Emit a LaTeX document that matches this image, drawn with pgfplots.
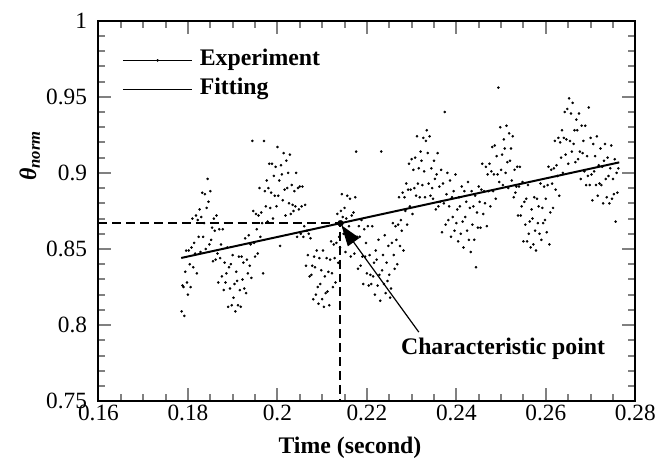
\documentclass[border=0pt]{standalone}
\usepackage{fontspec}
\setmainfont{Liberation Serif}
\usepackage{pgfplots}
\pgfplotsset{compat=1.18}
\usetikzlibrary{arrows.meta}

\begin{document}
\begin{tikzpicture}
\path (-99bp,-61.5bp) rectangle (560bp,403.5bp);
\begin{axis}[
    at={(0,0)}, anchor=south west,
    scale only axis, width=540bp, height=382.7bp,
    xmin=0.16, xmax=0.28, ymin=0.75, ymax=1,
    xtick={0.16,0.18,0.2,0.22,0.24,0.26,0.28},
    ytick={0.75,0.8,0.85,0.9,0.95,1},
    minor x tick num=3, minor y tick num=4,
    major tick length=13bp, minor tick length=7bp,
    every tick/.append style={line width=2bp},
    axis line style={line width=2bp},
    /pgf/number format/assume math mode=true,
    tick label style={font=\fontsize{23.5}{28}\selectfont},
    yticklabel style={xshift=-8bp},
    label style={font=\fontsize{24}{29}\selectfont\bfseries},
    xlabel={Time (second)},
    xlabel style={at={(axis description cs:0.4685,0)}, anchor=base, yshift=-53bp},
    ylabel={\itshape θ\textsubscript{norm}},
    ylabel style={at={(axis description cs:-0.128,0.645)}, anchor=center},
    legend cell align=left,
    legend style={at={(axis description cs:0.0444,0.934)}, anchor=north west,
        draw=none, fill=none, inner sep=0pt, column sep=4bp,
        font=\fontsize{24}{29}\selectfont\bfseries,
        nodes={inner sep=3bp, text height=17bp, text depth=6bp}},
]
% measured points
\addplot[only marks, mark=*, mark size=1.1bp, black,
    legend image code/.code={\path (0bp,0bp) -- (70bp,0bp); \fill (35bp,0bp) circle (1.1bp);}]
coordinates {
(0.1786,0.809) (0.1788,0.826)
(0.1790,0.825) (0.1792,0.806) (0.1794,0.835) (0.1796,0.849) (0.1798,0.828)
(0.1800,0.820) (0.1802,0.849) (0.1804,0.840) (0.1806,0.825) (0.1808,0.851)
(0.1810,0.870) (0.1812,0.838) (0.1814,0.854) (0.1816,0.847) (0.1818,0.872)
(0.1820,0.834) (0.1822,0.869) (0.1824,0.858) (0.1826,0.876) (0.1828,0.848)
(0.1830,0.871) (0.1832,0.887) (0.1834,0.858) (0.1836,0.867) (0.1838,0.886)
(0.1840,0.850) (0.1842,0.877) (0.1844,0.896) (0.1846,0.881) (0.1848,0.853)
(0.1850,0.888) (0.1852,0.856) (0.1854,0.864) (0.1856,0.842) (0.1858,0.870)
(0.1860,0.862) (0.1862,0.843) (0.1864,0.872) (0.1866,0.847) (0.1868,0.828)
(0.1870,0.863) (0.1872,0.844) (0.1874,0.853) (0.1876,0.832) (0.1878,0.863)
(0.1880,0.823) (0.1882,0.841) (0.1884,0.828) (0.1886,0.834) (0.1888,0.851)
(0.1890,0.812) (0.1892,0.838) (0.1894,0.824) (0.1896,0.840) (0.1898,0.813)
(0.1900,0.846) (0.1902,0.818) (0.1904,0.827) (0.1906,0.809) (0.1908,0.835)
(0.1910,0.829) (0.1912,0.813) (0.1914,0.845) (0.1916,0.823) (0.1918,0.812)
(0.1920,0.845) (0.1922,0.830) (0.1924,0.841) (0.1926,0.824) (0.1928,0.857)
(0.1930,0.821) (0.1932,0.843) (0.1934,0.834) (0.1936,0.859) (0.1938,0.839)
(0.1940,0.853) (0.1942,0.831) (0.1944,0.921) (0.1946,0.875) (0.1948,0.854)
(0.1950,0.845) (0.1952,0.873) (0.1954,0.863) (0.1956,0.847) (0.1958,0.872)
(0.1960,0.890) (0.1962,0.858) (0.1964,0.874) (0.1966,0.867) (0.1968,0.834)
(0.1970,0.921) (0.1972,0.888) (0.1974,0.878) (0.1976,0.895) (0.1978,0.868)
(0.1980,0.890) (0.1982,0.906) (0.1984,0.877) (0.1986,0.887) (0.1988,0.906)
(0.1990,0.870) (0.1992,0.898) (0.1994,0.885) (0.1996,0.904) (0.1998,0.878)
(0.2000,0.917) (0.2002,0.885) (0.2004,0.895) (0.2006,0.852) (0.2008,0.905)
(0.2010,0.899) (0.2012,0.882) (0.2014,0.913) (0.2016,0.889) (0.2018,0.872)
(0.2020,0.908) (0.2022,0.890) (0.2024,0.900) (0.2026,0.880) (0.2028,0.912)
(0.2030,0.873) (0.2032,0.892) (0.2034,0.879) (0.2036,0.875) (0.2038,0.888)
(0.2040,0.878) (0.2042,0.900) (0.2044,0.858) (0.2046,0.890) (0.2048,0.876)
(0.2050,0.891) (0.2052,0.860) (0.2054,0.878) (0.2056,0.891) (0.2058,0.858)
(0.2060,0.865) (0.2062,0.879) (0.2064,0.839) (0.2066,0.862) (0.2068,0.846)
(0.2070,0.860) (0.2072,0.832) (0.2074,0.857) (0.2076,0.833) (0.2078,0.839)
(0.2080,0.817) (0.2082,0.845) (0.2084,0.838) (0.2086,0.820) (0.2088,0.849)
(0.2090,0.825) (0.2092,0.814) (0.2094,0.844) (0.2096,0.827) (0.2098,0.836)
(0.2100,0.817) (0.2102,0.849) (0.2104,0.812) (0.2106,0.832) (0.2108,0.821)
(0.2110,0.844) (0.2112,0.822) (0.2114,0.835) (0.2116,0.813) (0.2118,0.843)
(0.2120,0.855) (0.2122,0.834) (0.2124,0.825) (0.2126,0.853) (0.2128,0.844)
(0.2130,0.828) (0.2132,0.854) (0.2134,0.873) (0.2136,0.841) (0.2138,0.858)
(0.2140,0.851) (0.2142,0.875) (0.2144,0.886) (0.2146,0.871) (0.2148,0.860)
(0.2150,0.877) (0.2152,0.848) (0.2154,0.870) (0.2156,0.885) (0.2158,0.856)
(0.2160,0.865) (0.2162,0.883) (0.2164,0.845) (0.2166,0.872) (0.2168,0.858)
(0.2170,0.874) (0.2172,0.847) (0.2174,0.884) (0.2176,0.914) (0.2178,0.858)
(0.2180,0.837) (0.2182,0.865) (0.2184,0.858) (0.2186,0.839) (0.2188,0.869)
(0.2190,0.845) (0.2192,0.827) (0.2194,0.863) (0.2196,0.845) (0.2198,0.854)
(0.2200,0.834) (0.2202,0.865) (0.2204,0.826) (0.2206,0.846) (0.2208,0.833)
(0.2210,0.827) (0.2212,0.865) (0.2214,0.832) (0.2216,0.841) (0.2218,0.820)
(0.2220,0.849) (0.2222,0.843) (0.2224,0.826) (0.2226,0.856) (0.2228,0.833)
(0.2230,0.816) (0.2232,0.914) (0.2234,0.836) (0.2236,0.846) (0.2238,0.827)
(0.2240,0.859) (0.2242,0.821) (0.2244,0.841) (0.2246,0.829) (0.2248,0.852)
(0.2250,0.833) (0.2252,0.818) (0.2254,0.824) (0.2256,0.854) (0.2258,0.867)
(0.2260,0.846) (0.2262,0.837) (0.2264,0.865) (0.2266,0.856) (0.2268,0.840)
(0.2270,0.866) (0.2272,0.884) (0.2274,0.852) (0.2276,0.869) (0.2278,0.862)
(0.2280,0.887) (0.2282,0.849) (0.2284,0.884) (0.2286,0.875) (0.2288,0.893)
(0.2290,0.866) (0.2292,0.889) (0.2294,0.906) (0.2296,0.878) (0.2298,0.889)
(0.2300,0.909) (0.2302,0.873) (0.2304,0.902) (0.2306,0.890) (0.2308,0.910)
(0.2310,0.885) (0.2312,0.924) (0.2314,0.893) (0.2316,0.903) (0.2318,0.884)
(0.2320,0.914) (0.2322,0.908) (0.2324,0.892) (0.2326,0.923) (0.2328,0.901)
(0.2330,0.884) (0.2332,0.921) (0.2334,0.928) (0.2336,0.913) (0.2338,0.893)
(0.2340,0.924) (0.2342,0.885) (0.2344,0.903) (0.2346,0.890) (0.2348,0.883)
(0.2350,0.908) (0.2352,0.896) (0.2354,0.876) (0.2356,0.899) (0.2358,0.913)
(0.2360,0.878) (0.2362,0.891) (0.2364,0.881) (0.2366,0.902) (0.2368,0.861)
(0.2370,0.893) (0.2372,0.880) (0.2374,0.940) (0.2376,0.866) (0.2378,0.886)
(0.2380,0.900) (0.2382,0.869) (0.2384,0.878) (0.2386,0.895) (0.2388,0.858)
(0.2390,0.884) (0.2392,0.871) (0.2394,0.888) (0.2396,0.862) (0.2398,0.899)
(0.2400,0.867) (0.2402,0.876) (0.2404,0.855) (0.2406,0.884) (0.2408,0.878)
(0.2410,0.860) (0.2412,0.891) (0.2414,0.868) (0.2416,0.851) (0.2418,0.888)
(0.2420,0.871) (0.2422,0.881) (0.2424,0.862) (0.2426,0.894) (0.2428,0.856)
(0.2430,0.877) (0.2432,0.848) (0.2434,0.888) (0.2436,0.866) (0.2438,0.878)
(0.2440,0.856) (0.2442,0.885) (0.2444,0.838) (0.2446,0.874) (0.2448,0.864)
(0.2450,0.891) (0.2452,0.881) (0.2454,0.864) (0.2456,0.889) (0.2458,0.906)
(0.2460,0.873) (0.2462,0.888) (0.2464,0.880) (0.2466,0.904) (0.2468,0.865)
(0.2470,0.899) (0.2472,0.888) (0.2474,0.906) (0.2476,0.878) (0.2478,0.901)
(0.2480,0.917) (0.2482,0.888) (0.2484,0.899) (0.2486,0.918) (0.2488,0.883)
(0.2490,0.911) (0.2492,0.899) (0.2494,0.956) (0.2496,0.894) (0.2498,0.930)
(0.2500,0.902) (0.2502,0.912) (0.2504,0.892) (0.2506,0.922) (0.2508,0.916)
(0.2510,0.900) (0.2512,0.931) (0.2514,0.907) (0.2516,0.890) (0.2518,0.926)
(0.2520,0.908) (0.2522,0.916) (0.2524,0.895) (0.2526,0.924) (0.2528,0.884)
(0.2530,0.902) (0.2532,0.887) (0.2534,0.891) (0.2536,0.904) (0.2538,0.872)
(0.2540,0.891) (0.2542,0.904) (0.2544,0.872) (0.2546,0.878) (0.2548,0.894)
(0.2550,0.855) (0.2552,0.881) (0.2554,0.866) (0.2556,0.883) (0.2558,0.855)
(0.2560,0.892) (0.2562,0.860) (0.2564,0.868) (0.2566,0.851) (0.2568,0.876)
(0.2570,0.870) (0.2572,0.853) (0.2574,0.884) (0.2576,0.862) (0.2578,0.849)
(0.2580,0.883) (0.2582,0.867) (0.2584,0.878) (0.2586,0.860) (0.2588,0.893)
(0.2590,0.856) (0.2592,0.877) (0.2594,0.867) (0.2596,0.891) (0.2598,0.869)
(0.2600,0.883) (0.2602,0.861) (0.2604,0.892) (0.2606,0.904) (0.2608,0.853)
(0.2610,0.874) (0.2612,0.902) (0.2614,0.893) (0.2616,0.877) (0.2618,0.903)
(0.2620,0.921) (0.2622,0.889) (0.2624,0.905) (0.2626,0.898) (0.2628,0.923)
(0.2630,0.885) (0.2632,0.920) (0.2634,0.910) (0.2636,0.928) (0.2638,0.900)
(0.2640,0.923) (0.2642,0.940) (0.2644,0.912) (0.2646,0.922) (0.2648,0.942)
(0.2650,0.906) (0.2652,0.949) (0.2654,0.921) (0.2656,0.939) (0.2658,0.914)
(0.2660,0.946) (0.2662,0.919) (0.2664,0.928) (0.2666,0.907) (0.2668,0.935)
(0.2670,0.928) (0.2672,0.909) (0.2674,0.939) (0.2676,0.914) (0.2678,0.896)
(0.2680,0.931) (0.2682,0.913) (0.2684,0.921) (0.2686,0.901) (0.2688,0.931)
(0.2690,0.892) (0.2692,0.911) (0.2694,0.898) (0.2696,0.943) (0.2698,0.892)
(0.2700,0.923) (0.2702,0.899) (0.2704,0.882) (0.2706,0.919) (0.2708,0.901)
(0.2710,0.911) (0.2712,0.892) (0.2714,0.924) (0.2716,0.885) (0.2718,0.905)
(0.2720,0.893) (0.2722,0.916) (0.2724,0.892) (0.2726,0.904) (0.2728,0.880)
(0.2730,0.908) (0.2732,0.919) (0.2734,0.896) (0.2736,0.884) (0.2738,0.910)
(0.2740,0.898) (0.2742,0.880) (0.2744,0.903) (0.2746,0.918) (0.2748,0.883)
(0.2750,0.896) (0.2752,0.886) (0.2754,0.909) (0.2756,0.868) (0.2758,0.900)
(0.2760,0.887) (0.2762,0.903)
};
\addlegendentry{Experiment}
% linear fit
\addplot[black, line width=2bp,
    legend image code/.code={\draw[line width=0.8bp] (0bp,0bp) -- (70bp,0bp);}]
coordinates {(0.1785,0.8441) (0.2764,0.9069)};
\addlegendentry{Fitting}
% characteristic point and guides
\addplot[forget plot, black, line width=2bp, dash pattern=on 9bp off 5bp]
coordinates {(0.16,0.8669) (0.2141,0.8669) (0.2141,0.75)};
\addplot[forget plot, only marks, mark=*, mark size=3bp, black]
coordinates {(0.2141,0.8669)};
\draw[line width=1.2bp, -{Triangle[length=21bp,width=14bp]}]
    (axis cs:0.2316,0.7954) -- (axis cs:0.2143,0.8656);
\node[anchor=base west, inner sep=0pt, font=\fontsize{24}{29}\selectfont\bfseries]
    at (axis cs:0.2276,0.7804) {Characteristic point};
\end{axis}
\end{tikzpicture}
\end{document}
